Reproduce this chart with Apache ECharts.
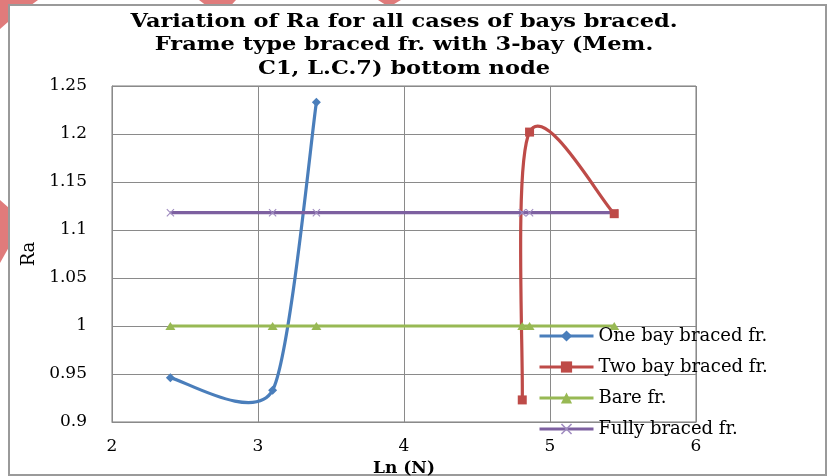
<!DOCTYPE html>
<html>
<head>
<meta charset="utf-8">
<script src="https://cdn.jsdelivr.net/npm/echarts@6/dist/echarts.min.js"></script>
<style>html,body{margin:0;padding:0;background:#fff;}#c{width:828px;height:476px;}</style>
</head>
<body>
<div id="c"></div>
<script>
// ---- data ----
const titleLines = ['Variation of Ra for all cases of bays braced.', 'Frame type braced fr. with 3-bay (Mem.', 'C1, L.C.7) bottom node'];
const seriesNames = ['One bay braced fr.', 'Two bay braced fr.', 'Bare fr.', 'Fully braced fr.'];
const oneBayX = [2.40, 3.10, 3.40];
const oneBayY = [0.946, 0.933, 1.233];
const twoBayX = [4.81, 4.86, 5.44];
const twoBayY = [0.923, 1.202, 1.117];
const bareX = [2.40, 3.10, 3.40, 4.81, 4.86, 5.44];
const bareY = [1.0, 1.0, 1.0, 1.0, 1.0, 1.0];
const fullX = [2.40, 3.10, 3.40, 4.81, 4.86, 5.44];
const fullY = [1.118, 1.118, 1.118, 1.118, 1.118, 1.118];
const xTicks = [2, 3, 4, 5, 6];
const yTicks = [0.9, 0.95, 1.0, 1.05, 1.1, 1.15, 1.2, 1.25];

const colors = {blue: '#4A7EBB', red: '#BE4B48', green: '#98B954', purple: '#7D60A0'};
const FONT = 'DejaVu Serif';
const pairs = (xs, ys) => xs.map((x, i) => [x, ys[i]]);
const crossPath = 'path://M0,1L1,0L5,4L9,0L10,1L6,5L10,9L9,10L5,6L1,10L0,9L4,5Z';

// Excel-like smoothed curve drawn through the axis coordinates
function smoothCurve(xs, ys, k, color) {
  return function (params, api) {
    const p = xs.map((x, i) => api.coord([x, ys[i]]));
    const children = [];
    for (let i = 0; i < p.length - 1; i++) {
      const p0 = p[Math.max(i - 1, 0)], p1 = p[i], p2 = p[i + 1], p3 = p[Math.min(i + 2, p.length - 1)];
      children.push({
        type: 'bezierCurve',
        shape: {
          x1: p1[0], y1: p1[1], x2: p2[0], y2: p2[1],
          cpx1: p1[0] + (p2[0] - p0[0]) * k, cpy1: p1[1] + (p2[1] - p0[1]) * k,
          cpx2: p2[0] - (p3[0] - p1[0]) * k, cpy2: p2[1] - (p3[1] - p1[1]) * k
        },
        style: {fill: 'none', stroke: color, lineWidth: 3.2, lineCap: 'round', lineJoin: 'round'}
      });
    }
    return {type: 'group', children: children};
  };
}

const titleGraphics = titleLines.map((t, i) => ({
  type: 'text', z: 10, x: 404, y: 22 + i * 23.5, originX: 0, scaleX: 1.25,
  style: {text: t, x: 0, y: 0, align: 'center', verticalAlign: 'middle',
    font: 'bold 18px "DejaVu Serif"', fill: '#000'}
}));

const chart = echarts.init(document.getElementById('c'), null, {renderer: 'canvas'});
chart.setOption({
  backgroundColor: '#fff',
  animation: false,
  grid: {left: 112, right: 132, top: 86, bottom: 54, show: true, borderColor: '#7a7a7a', borderWidth: 1,
    containLabel: false, outerBoundsMode: 'none'},
  xAxis: {
    type: 'value', min: 2, max: 6, interval: 1,
    name: 'Ln (N)', nameLocation: 'middle', nameGap: 33,
    nameTextStyle: {fontFamily: FONT, fontWeight: 'bold', fontSize: 17, color: '#000'},
    axisLine: {show: true, lineStyle: {color: '#8a8a8a', width: 1}},
    axisTick: {show: false},
    splitLine: {show: true, lineStyle: {color: '#8a8a8a', width: 1}},
    axisLabel: {margin: 16, fontFamily: FONT, fontSize: 17, color: '#000', formatter: v => String(v)}
  },
  yAxis: {
    type: 'value', min: 0.9, max: 1.25, interval: 0.05,
    name: 'Ra', nameLocation: 'middle', nameGap: 72, nameRotate: 90,
    nameTextStyle: {fontFamily: FONT, fontSize: 18, color: '#000'},
    axisLine: {show: true, lineStyle: {color: '#8a8a8a', width: 1}},
    axisTick: {show: false},
    splitLine: {show: true, lineStyle: {color: '#8a8a8a', width: 1}},
    axisLabel: {margin: 25, fontFamily: FONT, fontSize: 17, color: '#000',
      formatter: v => String(parseFloat(v.toFixed(2)))}
  },
  legend: {
    orient: 'vertical', left: 533, top: 322, padding: 5, itemWidth: 54, itemHeight: 14, itemGap: 13,
    textStyle: {fontFamily: FONT, fontSize: 18, color: '#000'},
    data: [
      {name: seriesNames[0], lineStyle: {width: 3, opacity: 1, color: colors.blue}},
      {name: seriesNames[1], lineStyle: {width: 3, opacity: 1, color: colors.red}},
      {name: seriesNames[2], lineStyle: {width: 3, opacity: 1, color: colors.green}},
      {name: seriesNames[3], lineStyle: {width: 3, opacity: 1, color: colors.purple}}
    ]
  },
  graphic: [
    {type: 'polygon', z: -10, shape: {points: [[0, 0], [38, 0], [8, 22], [0, 29]]}, style: {fill: '#E07B7B'}},
    {type: 'polygon', z: -10, shape: {points: [[199, 0], [236, 0], [224, 13], [216, 13]]}, style: {fill: '#E07B7B'}},
    {type: 'polygon', z: -10, shape: {points: [[378, 0], [401, 0], [389, 7]]}, style: {fill: '#E07B7B'}},
    {type: 'polygon', z: -10, shape: {points: [[0, 200], [9, 208], [9, 247], [0, 263]]}, style: {fill: '#E07B7B'}},
    {type: 'rect', z: -5, shape: {x: 9, y: 5, width: 817, height: 470}, style: {fill: '#fff', stroke: '#9a9a9a', lineWidth: 2}}
  ].concat(titleGraphics),
  series: [
    {type: 'custom', coordinateSystem: 'cartesian2d', silent: true, z: 2,
     renderItem: smoothCurve(oneBayX, oneBayY, 0.12, colors.blue), data: [[oneBayX[0], oneBayY[0]]]},
    {type: 'custom', coordinateSystem: 'cartesian2d', silent: true, z: 2,
     renderItem: smoothCurve(twoBayX, twoBayY, 1 / 6, colors.red), data: [[twoBayX[0], twoBayY[0]]]},
    {name: seriesNames[0], type: 'line', z: 4, data: pairs(oneBayX, oneBayY), symbol: 'diamond', symbolSize: 9,
     itemStyle: {color: colors.blue}, lineStyle: {color: colors.blue, width: 3, opacity: 0}},
    {name: seriesNames[1], type: 'line', z: 4, data: pairs(twoBayX, twoBayY), symbol: 'rect', symbolSize: 9,
     itemStyle: {color: colors.red}, lineStyle: {color: colors.red, width: 3, opacity: 0}},
    {name: seriesNames[2], type: 'line', z: 3, data: pairs(bareX, bareY), symbol: 'triangle', symbolSize: [10, 8],
     itemStyle: {color: colors.green}, lineStyle: {color: colors.green, width: 3.2}},
    {name: seriesNames[3], type: 'line', z: 3, data: pairs(fullX, fullY), symbol: crossPath, symbolSize: 8,
     itemStyle: {color: '#A08CC0'}, lineStyle: {color: colors.purple, width: 3.2}}
  ]
});
</script>
</body>
</html>
